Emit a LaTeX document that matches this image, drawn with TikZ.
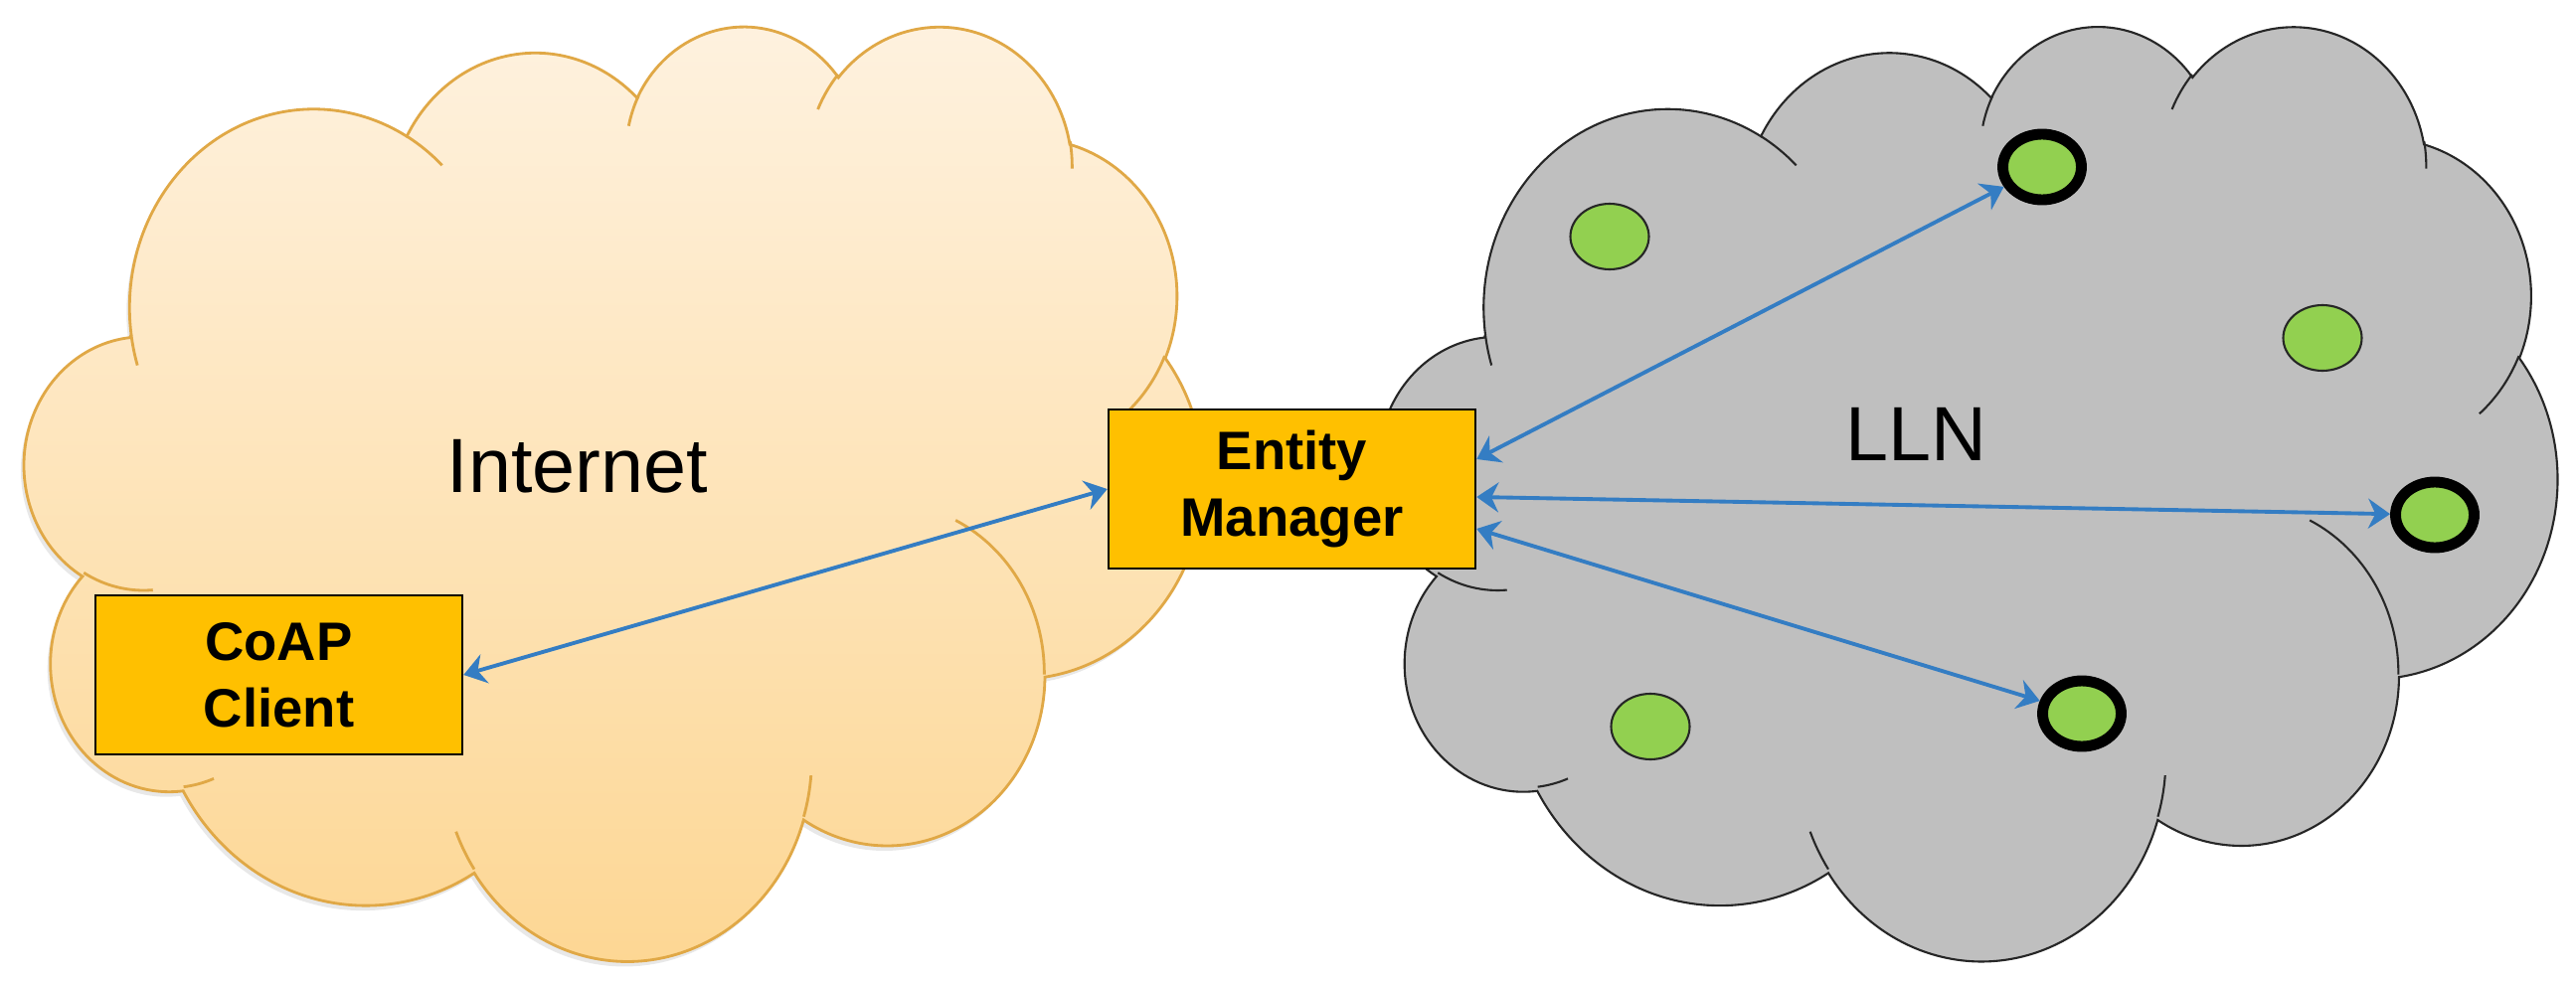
\documentclass[tikz,border=0pt]{standalone}
\usepackage{fontspec}
\setmainfont{Liberation Sans}
\usepackage{xcolor}
\usetikzlibrary{arrows.meta,positioning,shapes.geometric,shadows}

\definecolor{skyTop}{RGB}{254,242,224}
\definecolor{skyBottom}{RGB}{253,214,146}
\definecolor{skyLine}{RGB}{224,168,70}
\definecolor{llnGray}{RGB}{191,191,191}
\definecolor{boxYellow}{RGB}{255,192,0}
\definecolor{dotGreen}{RGB}{146,208,80}
\definecolor{linkBlue}{RGB}{52,125,195}

% cloud size (cm); outline given in a 432 x 432 box
\def\cw{11.85}
\def\ch{9.40}
% outline arcs: x radius / y radius / start / sweep
\newcommand\cloudarcs{67.53/91.90/-190.4875/123.7805, 53.33/72.67/-144.1024/89.9452,
  43.65/59.45/-145.8079/99.7230, 48.57/65.95/-130.9861/117.2417,
  53.33/72.73/-78.7089/109.0269, 67.75/92.20/-46.2673/130.2690,
  57.85/78.67/0.6250/114.0333, 67.52/92.15/22.4516/115.1726,
  77.20/105.43/66.2426/75.7110, 43.60/59.18/-274.9421/146.7356,
  43.45/59.45/-246.8285/152.5189}
% inner folds: x / y / x radius / y radius / start / sweep
\newcommand\cloudfolds{46.93/261.77/43.45/59.45/86.7420/26.4295,
  69.28/348.99/43.60/59.18/73.6105/11.4475, 164.78/390.90/67.52/92.15/137.6242/14.0811,
  288.27/347.51/67.52/92.15/6.4533/15.9984, 341.29/229.54/57.85/78.67/-70.2924/70.9174,
  417.98/153.54/53.33/72.73/30.3180/27.7515, 383.24/54.26/48.57/65.95/-13.7443/14.8589,
  290.78/39.52/48.57/65.95/-149.1815/18.1954, 221.41/47.20/43.65/59.45/-163.4943/17.6864,
  140.00/51.92/67.53/91.90/-66.7070/12.3194, 41.27/157.89/67.53/91.90/157.6544/11.8582}

% #1 fill style, #2 fold style, #3 left, #4 top
\newcommand\pptcloud[4]{%
  \path[#1] ({#3+39*\cw/432},{#4-143.7*\ch/432})
    \foreach \rw/\rh/\st/\sw [evaluate={\st as \angA using -atan2(\rw*sin(\st),\rh*cos(\st))},
      evaluate={\sw as \angD using mod(-atan2(\rw*sin(\st+\sw),\rh*cos(\st+\sw))+atan2(\rw*sin(\st),\rh*cos(\st))+\sw+540,360)-180-\sw}]
      in \cloudarcs
    {arc[start angle=\angA, delta angle=\angD, x radius={\rw*\cw/432*1cm}, y radius={\rh*\ch/432*1cm}]}
    -- cycle;
  \path[#2]
    \foreach \px/\py/\rw/\rh/\st/\sw [evaluate={\st as \angA using -atan2(\rw*sin(\st),\rh*cos(\st))},
      evaluate={\sw as \angD using mod(-atan2(\rw*sin(\st+\sw),\rh*cos(\st+\sw))+atan2(\rw*sin(\st),\rh*cos(\st))+\sw+540,360)-180-\sw}]
      in \cloudfolds
    {({#3+\px*\cw/432},{#4-\py*\ch/432})
     arc[start angle=\angA, delta angle=\angD, x radius={\rw*\cw/432*1cm}, y radius={\rh*\ch/432*1cm}]};
}

\begin{document}
\begin{tikzpicture}[
  internet/.style={draw=skyLine,line width=0.8pt,top color=skyTop,bottom color=skyBottom,
    drop shadow={opacity=0.18,shadow xshift=-0.03cm,shadow yshift=-0.05cm}},
  internetfold/.style={draw=skyLine,line width=0.8pt},
  lln/.style={draw=black!85,line width=0.6pt,fill=llnGray},
  llnfold/.style={draw=black!85,line width=0.6pt},
  netlabel/.style={font=\fontsize{22}{26}\selectfont},
  box/.style={draw,line width=0.7pt,fill=boxYellow,align=center,inner sep=0pt,
    minimum width=3.69cm,minimum height=1.60cm,font=\bfseries\fontsize{15.5}{19}\selectfont},
  dot/.style={ellipse,draw=black!85,line width=0.6pt,fill=dotGreen,inner sep=0pt,
    minimum width=0.79cm,minimum height=0.66cm},
  target/.style={dot,draw=black,line width=3.1pt},
  arrow/.style={{Stealth[length=2.2mm,width=3mm]}-{Stealth[length=2.2mm,width=3mm]},
    line width=1.1pt,draw=linkBlue}
]
\useasboundingbox (0,0) rectangle (25.91,9.86);

% the two networks
\pptcloud{internet}{internetfold}{0.25}{9.62}
\pptcloud{lln}{llnfold}{13.87}{9.62}

\node[netlabel] (inet) at (5.81,5.17) {Internet};
\node[netlabel] (llnname) at (19.27,5.49) {LLN};

\node[box] (coap) at (2.805,3.07) {CoAP\\Client};
\node[box] (em) at (12.995,4.94) {Entity\\Manager};

% sensor nodes
\node[dot] (s1) at (16.19,7.48) {};
\node[dot] (s2) at (23.36,6.46) {};
\node[dot] (s3) at (16.60,2.55) {};
\node[target] (t1) at (20.54,8.18) {};
\node[target] (t2) at (24.49,4.68) {};
\node[target] (t3) at (20.94,2.68) {};

\draw[arrow] (coap.east)--(em.west);
\draw[arrow] ([yshift=0.30cm]em.east)--(t1);
\draw[arrow] ([yshift=-0.08cm]em.east)--(t2);
\draw[arrow] ([yshift=-0.40cm]em.east)--(t3);
\end{tikzpicture}
\end{document}
